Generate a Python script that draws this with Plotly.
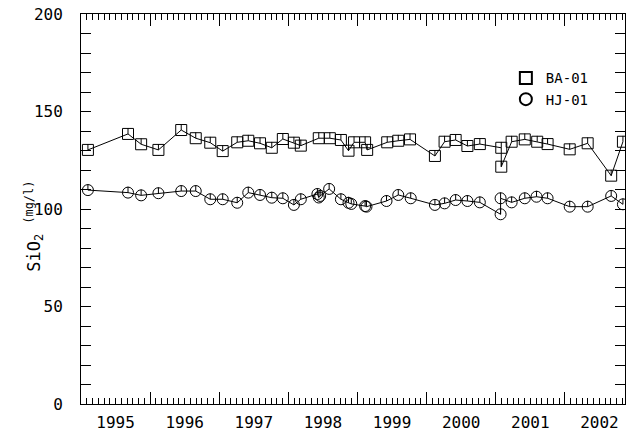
import plotly.graph_objects as go

# ---- data (decimal year, value in mg/l) ----
ba_t = [1995.10, 1995.68, 1995.87, 1996.12, 1996.45, 1996.66, 1996.87, 1997.05, 1997.26, 1997.42,
        1997.59, 1997.76, 1997.92, 1998.08, 1998.18, 1998.44, 1998.60, 1998.76, 1998.87, 1998.95,
        1999.11, 1999.14, 1999.43, 1999.59, 1999.76, 2000.12, 2000.26, 2000.42, 2000.59, 2000.77,
        2001.08, 2001.08, 2001.23, 2001.42, 2001.60, 2001.75, 2002.07, 2002.33, 2002.67, 2002.84]
ba_v = [130.3, 138.5, 133.2, 130.3, 140.5, 136.3, 134.0, 129.7, 134.2, 135.0,
        133.7, 131.4, 135.9, 134.0, 132.5, 136.3, 136.3, 135.4, 129.9, 134.2,
        134.2, 130.3, 134.2, 135.0, 135.7, 127.2, 134.5, 135.4, 132.3, 133.3,
        131.4, 121.7, 134.5, 135.7, 134.5, 133.3, 130.6, 133.7, 117.1, 134.5]

hj_t = [1995.10, 1995.68, 1995.87, 1996.12, 1996.45, 1996.66, 1996.87, 1997.05, 1997.26, 1997.42,
        1997.59, 1997.76, 1997.92, 1998.08, 1998.18, 1998.42, 1998.44, 1998.46, 1998.59, 1998.76,
        1998.87, 1998.91, 1999.11, 1999.13, 1999.42, 1999.59, 1999.77, 2000.12, 2000.26, 2000.42,
        2000.59, 2000.77, 2001.07, 2001.07, 2001.23, 2001.42, 2001.59, 2001.75, 2002.07, 2002.33,
        2002.67, 2002.84]
hj_v = [109.7, 108.4, 107.0, 108.1, 109.2, 109.2, 105.0, 105.0, 103.2, 108.4,
        107.2, 105.8, 105.5, 102.1, 105.0, 107.7, 105.9, 106.7, 110.3, 105.0,
        103.2, 102.6, 101.5, 101.2, 104.1, 107.2, 105.5, 102.1, 102.9, 104.6,
        104.1, 103.4, 97.3, 105.5, 103.4, 105.5, 106.3, 105.5, 101.2, 101.2,
        106.7, 102.4]

series = [("BA-01", ba_t, ba_v, "square-open"), ("HJ-01", hj_t, hj_v, "circle-open")]

years = list(range(1995, 2003))
year_labels = [str(y) for y in years]
y_ticks = [0, 50, 100, 150, 200]
month_ticks = [1995 + m / 12 for m in range(0, 8 * 12) if 1995 + m / 12 <= 2002.87]

FONT = "DejaVu Sans Mono"
x_range = [1995.0, 2002.87]

fig = go.Figure()
for name, t, v, sym in series:
    fig.add_trace(go.Scatter(
        x=t, y=v, mode="lines+markers", showlegend=False,
        line=dict(color="black", width=1),
        marker=dict(symbol=sym, size=11, color="black", line=dict(width=1, color="black")),
        error_y=dict(type="data", symmetric=False, array=[3] * len(v), arrayminus=[0] * len(v),
                     thickness=1, width=0, color="black"),
    ))
for name, t, v, sym in series:
    fig.add_trace(go.Scatter(
        x=[None], y=[None], mode="markers", name=name,
        marker=dict(symbol=sym, size=10, color="black", line=dict(width=1, color="black")),
    ))

# helper axes: monthly ticks (x2) and year labels centred in each year (x3)
fig.add_trace(go.Scatter(x=[None], y=[None], xaxis="x2", showlegend=False))
fig.add_trace(go.Scatter(x=[None], y=[None], xaxis="x3", showlegend=False))

fig.update_layout(
    width=627, height=433,
    margin=dict(l=81, r=2, t=14, b=29),
    paper_bgcolor="white", plot_bgcolor="white",
    font=dict(family=FONT, size=16, color="black"),
    xaxis=dict(range=x_range, tickmode="array", tickvals=years, showticklabels=False,
               ticks="inside", ticklen=12, tickwidth=1, tickcolor="black",
               showline=True, linecolor="black", linewidth=1, mirror="allticks",
               showgrid=False, zeroline=False),
    xaxis2=dict(range=x_range, overlaying="x", anchor="y", side="top",
                tickmode="array", tickvals=month_ticks, showticklabels=False,
                ticks="inside", ticklen=6, tickwidth=1.3, tickcolor="black",
                showline=True, linecolor="black", linewidth=1, mirror="allticks",
                showgrid=False, zeroline=False),
    xaxis3=dict(range=x_range, overlaying="x", anchor="y", side="bottom",
                tickvals=[y + 0.5 for y in years], ticktext=year_labels,
                ticks="", showline=False, showgrid=False, zeroline=False,
                ticklabelstandoff=7, tickfont=dict(family=FONT, size=16)),
    yaxis=dict(range=[0, 200], tickvals=y_ticks, ticks="inside", ticklen=10,
               tickwidth=1, tickcolor="black",
               showline=True, linecolor="black", linewidth=1, mirror="allticks",
               showgrid=False, zeroline=False, ticklabelstandoff=14,
               tickfont=dict(family=FONT, size=16),
               minor=dict(dtick=10, ticks="inside", ticklen=5, tickcolor="black",
                          tickwidth=1, showgrid=False)),
    legend=dict(x=0.781, y=0.876, xanchor="left", yanchor="top",
                bgcolor="rgba(0,0,0,0)", font=dict(family=FONT, size=14),
                itemsizing="constant", tracegroupgap=0),
    annotations=[dict(
        text="SiO<sub>2</sub> <sup>(mg/l)</sup>", textangle=-90,
        xref="paper", yref="paper", x=-0.086, y=0.455,
        xanchor="center", yanchor="middle", showarrow=False,
        font=dict(family=FONT, size=17, color="black"))],
)

fig.write_html("out.html")
